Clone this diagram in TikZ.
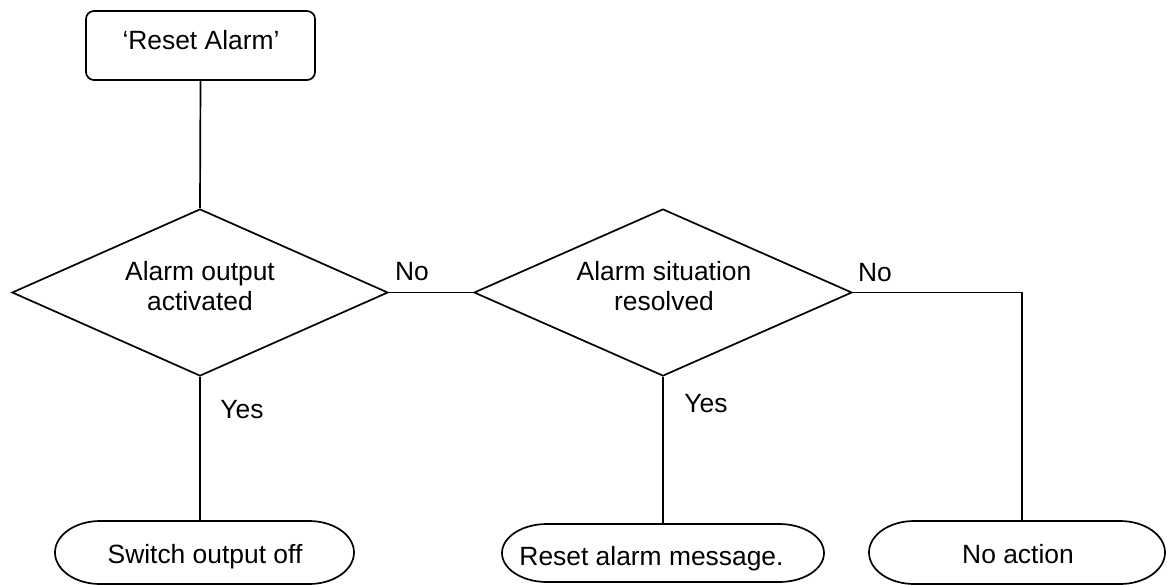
\documentclass[tikz,border=0pt]{standalone}
\usepackage{fontspec}
\setmainfont{Liberation Sans}
\usetikzlibrary{shapes.geometric}
\begin{document}
\begin{tikzpicture}[x=1pt,y=-1pt,line width=1.7pt,
  txt/.style={inner sep=0pt,outer sep=0pt,font=\fontsize{26.4}{30}\selectfont},
  lbl/.style={txt,anchor=base},
  startbox/.style={draw,rectangle,rounded corners=8pt,minimum width=229pt,minimum height=69pt,inner sep=0pt},
  dia/.style={draw,diamond,inner sep=0pt,minimum width=#1,minimum height=167pt},
  hold/.style={rectangle,inner sep=0pt,outer sep=0pt,draw=none},
  conn/.style={draw,line width=1.7pt}]
\useasboundingbox (0,0) rectangle (1167,584);

% shapes
\node[startbox] (start) at (200.5,45.5) {};
\node[dia=376pt] (d1) at (200,292.5) {};
\node[dia=378pt] (d2) at (663,292.5) {};

\node[hold,minimum width=299pt,minimum height=63pt] (s1) at (204.5,552.5) {};
\node[hold,minimum width=322pt,minimum height=58pt] (s2) at (663,553) {};
\node[hold,minimum width=296pt,minimum height=63pt] (s3) at (1017,552.5) {};

\draw ([xshift=45pt]s1.north west) -- ([xshift=-45pt]s1.north east)
  arc[start angle=90,end angle=-90,x radius=45pt,y radius=31.5pt]
  -- ([xshift=45pt]s1.south west)
  arc[start angle=270,end angle=90,x radius=45pt,y radius=31.5pt] -- cycle;
\draw ([xshift=45pt]s2.north west) -- ([xshift=-45pt]s2.north east)
  arc[start angle=90,end angle=-90,x radius=45pt,y radius=29pt]
  -- ([xshift=45pt]s2.south west)
  arc[start angle=270,end angle=90,x radius=45pt,y radius=29pt] -- cycle;
\draw ([xshift=45pt]s3.north west) -- ([xshift=-45pt]s3.north east)
  arc[start angle=90,end angle=-90,x radius=45pt,y radius=31.5pt]
  -- ([xshift=45pt]s3.south west)
  arc[start angle=270,end angle=90,x radius=45pt,y radius=31.5pt] -- cycle;

% texts
\node[lbl] (t0) at (201,49) {‘Reset Alarm’};
\node[txt,align=center] (t1) at (200,286.5) {Alarm output\\activated};
\node[txt,align=center] (t2) at (664,286.5) {Alarm situation\\resolved};
\node[lbl] (no1) at (412,280) {No};
\node[lbl] (no2) at (875,281) {No};
\node[lbl] (yes1) at (242,418) {Yes};
\node[lbl] (yes2) at (706,412) {Yes};
\node[lbl] (t3) at (205,563) {Switch output off};
\node[lbl] (t4) at (651.5,565) {Reset alarm message.};
\node[lbl] (t5) at (1018,563) {No action};

% connectors
\path[conn] (start.south) -- (d1.north);
\path[conn] (d1.east) -- (d2.west);
\path[conn] (d1.south) -- (d1.south |- s1.north);
\path[conn] (d2.south) -- (d2.south |- s2.north);
\coordinate (c3) at ([xshift=5pt]s3.north);
\path[conn] (d2.east) -| (c3);
\end{tikzpicture}
\end{document}
